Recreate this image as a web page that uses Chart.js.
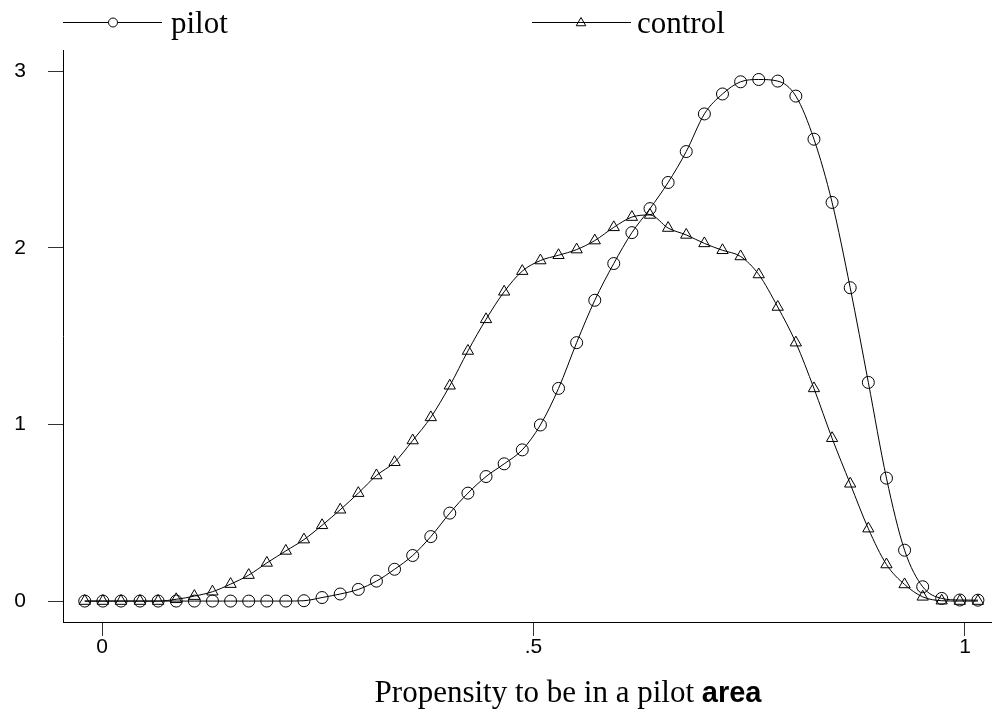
<!DOCTYPE html>
<html>
<head>
<meta charset="utf-8">
<style>
  html, body { margin: 0; padding: 0; background: #fff; }
  #wrap { width: 992px; height: 719px; position: relative; }
</style>
<script src="https://cdn.jsdelivr.net/npm/chart.js@4/dist/chart.umd.min.js"></script>
</head>
<body>
<div id="wrap"><canvas id="c" width="992" height="719"></canvas></div>
<script>
// Evaluation grid (propensity score)
const xGrid = [-0.020, 0.001, 0.022, 0.044, 0.065, 0.086, 0.107, 0.128, 0.149, 0.170,
               0.191, 0.213, 0.234, 0.255, 0.276, 0.297, 0.318, 0.339, 0.360, 0.381,
               0.403, 0.424, 0.445, 0.466, 0.487, 0.508, 0.529, 0.550, 0.571, 0.593,
               0.614, 0.635, 0.656, 0.677, 0.698, 0.719, 0.740, 0.761, 0.783, 0.804,
               0.825, 0.846, 0.867, 0.888, 0.909, 0.930, 0.951, 0.973, 0.994, 1.015];

// Density, pilot areas
const pilot = [0.000, 0.000, 0.000, 0.000, 0.000, 0.000, 0.000, 0.000, 0.000, 0.000,
               0.000, 0.000, 0.002, 0.020, 0.040, 0.066, 0.113, 0.180, 0.258, 0.365,
               0.498, 0.611, 0.705, 0.777, 0.856, 0.997, 1.204, 1.463, 1.703, 1.911,
               2.086, 2.222, 2.370, 2.545, 2.758, 2.871, 2.940, 2.953, 2.944, 2.859,
               2.615, 2.257, 1.774, 1.238, 0.696, 0.288, 0.081, 0.015, 0.006, 0.005];

// Density, control areas
const control = [0.000, 0.000, 0.000, 0.000, 0.000, 0.010, 0.028, 0.053, 0.096, 0.147,
                 0.216, 0.284, 0.348, 0.429, 0.517, 0.611, 0.711, 0.786, 0.909, 1.040,
                 1.219, 1.416, 1.595, 1.751, 1.868, 1.928, 1.958, 1.990, 2.041, 2.116,
                 2.174, 2.186, 2.112, 2.073, 2.025, 1.986, 1.951, 1.849, 1.665, 1.463,
                 1.204, 0.922, 0.664, 0.410, 0.207, 0.094, 0.024, 0.002, 0.000, 0.000];

const xTicks = [0, 0.5, 1];
const xTickLabels = ['0', '.5', '1'];
const yTicks = [0, 1, 2, 3];
const yTickLabels = ['0', '1', '2', '3'];

const seriesNames = ['pilot', 'control'];
const xTitleMain = 'Propensity to be in a pilot ';
const xTitleTail = 'area';

const SERIF = '"Liberation Serif", "DejaVu Serif", serif';
const SANS = '"Liberation Sans", Arial, sans-serif';

function toXY(ys) { return xGrid.map((x, i) => ({ x: x, y: ys[i] })); }

function drawTri(ctx, x, y, r) {
  ctx.beginPath();
  ctx.moveTo(x, y - r);
  ctx.lineTo(x + r * Math.sin(Math.PI / 3), y + r / 2);
  ctx.lineTo(x - r * Math.sin(Math.PI / 3), y + r / 2);
  ctx.closePath();
  ctx.stroke();
}

const decorPlugin = {
  id: 'decor',
  afterDraw(chart) {
    const ctx = chart.ctx;
    ctx.save();
    ctx.strokeStyle = '#000';
    ctx.fillStyle = '#000';
    ctx.lineWidth = 1;
    // legend: pilot
    ctx.beginPath(); ctx.moveTo(63, 22.5); ctx.lineTo(162, 22.5); ctx.stroke();
    ctx.fillStyle = '#fff';
    ctx.beginPath(); ctx.arc(113, 22.5, 4.5, 0, Math.PI * 2); ctx.fill(); ctx.stroke();
    // legend: control
    ctx.beginPath(); ctx.moveTo(532, 22.5); ctx.lineTo(631, 22.5); ctx.stroke();
    drawTri(ctx, 581, 23, 5.5);
    ctx.fillStyle = '#000';
    ctx.font = '31px ' + SERIF;
    ctx.textBaseline = 'alphabetic';
    ctx.textAlign = 'left';
    ctx.fillText(seriesNames[0], 171, 33);
    ctx.fillText(seriesNames[1], 637, 33);
    // x-axis title (mixed fonts)
    ctx.font = '31px ' + SERIF;
    const w1 = ctx.measureText(xTitleMain).width;
    ctx.font = 'bold 29px ' + SANS;
    const w2 = ctx.measureText(xTitleTail).width;
    const x0 = 568 - (w1 + w2) / 2;
    ctx.font = '31px ' + SERIF;
    ctx.fillText(xTitleMain, x0, 702);
    ctx.font = 'bold 29px ' + SANS;
    ctx.fillText(xTitleTail, x0 + w1, 702);
    ctx.restore();
  }
};

new Chart(document.getElementById('c'), {
  type: 'line',
  data: {
    datasets: [
      {
        label: seriesNames[0],
        data: toXY(pilot),
        borderColor: '#000',
        borderWidth: 1,
        pointStyle: 'circle',
        pointRadius: 6,
        pointBorderWidth: 1,
        pointBorderColor: '#000',
        pointBackgroundColor: 'rgba(0,0,0,0)',
        cubicInterpolationMode: 'monotone',
        fill: false
      },
      {
        label: seriesNames[1],
        data: toXY(control),
        borderColor: '#000',
        borderWidth: 1,
        pointStyle: 'triangle',
        pointRadius: 6.5,
        pointBorderWidth: 1,
        pointBorderColor: '#000',
        pointBackgroundColor: 'rgba(0,0,0,0)',
        cubicInterpolationMode: 'monotone',
        fill: false
      }
    ]
  },
  options: {
    responsive: false,
    animation: false,
    devicePixelRatio: 1,
    layout: { autoPadding: false, padding: { top: 50, right: 0, bottom: 0, left: 0 } },
    plugins: { legend: { display: false }, tooltip: { enabled: false } },
    scales: {
      x: {
        type: 'linear',
        position: 'bottom',
        min: -0.0452,
        max: 1.0313,
        afterBuildTicks(s) { s.ticks = xTicks.map(v => ({ value: v })); },
        afterFit(s) { s.height = 97; },
        grid: { drawOnChartArea: false, drawTicks: true, tickLength: 14, color: '#333', lineWidth: 1 },
        border: { display: true, color: '#000', width: 1 },
        ticks: {
          color: '#000',
          font: { family: SANS, size: 21 },
          padding: -1,
          maxRotation: 0,
          autoSkip: false,
          callback(v) { const i = xTicks.indexOf(v); return i >= 0 ? xTickLabels[i] : ''; }
        }
      },
      y: {
        type: 'linear',
        min: -0.1185,
        max: 3.12,
        afterBuildTicks(s) { s.ticks = yTicks.map(v => ({ value: v })); },
        afterFit(s) { s.width = 63; },
        grid: { drawOnChartArea: false, drawTicks: true, tickLength: 15, color: '#333', lineWidth: 1 },
        border: { display: true, color: '#000', width: 1 },
        ticks: {
          color: '#000',
          font: { family: SANS, size: 21 },
          padding: 22,
          autoSkip: false,
          callback(v) { const i = yTicks.indexOf(v); return i >= 0 ? yTickLabels[i] : ''; }
        }
      }
    }
  },
  plugins: [decorPlugin]
});
</script>
</body>
</html>
